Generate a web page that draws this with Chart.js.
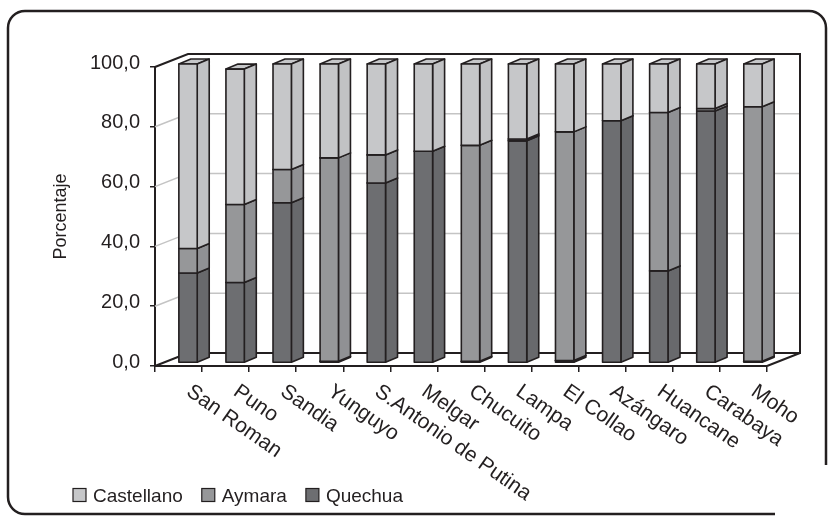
<!DOCTYPE html>
<html>
<head>
<meta charset="utf-8">
<script src="https://cdn.jsdelivr.net/npm/chart.js@4.4.1/dist/chart.umd.min.js"></script>
<style>
  html, body { margin: 0; padding: 0; background: #fff; }
</style>
</head>
<body>
<canvas id="lenguas" width="831" height="518"></canvas>
<script>
// Lengua materna por provincia (%), Puno
const provincias = ['San Roman', 'Puno', 'Sandia', 'Yunguyo', 'S.Antonio de Putina', 'Melgar',
    'Chucuito', 'Lampa', 'El Collao', 'Azángaro', 'Huancane', 'Carabaya', 'Moho'];
const quechua    = [30.1, 26.9, 53.6,  0.6, 60.2, 70.8,  0.6, 74.3,  0.8, 81.0, 30.8, 84.3,  0.6];
const aymara     = [ 8.2, 26.1, 11.1, 68.0,  9.4,  0.0, 72.2,  0.6, 76.5,  0.0, 53.0,  0.8, 85.1];
const castellano = [61.7, 45.3, 35.3, 31.4, 30.4, 29.2, 27.2, 25.1, 22.7, 19.0, 16.2, 14.9, 14.3];
const yTicks = [0, 20, 40, 60, 80, 100];

const INK = '#231f20';
const FONT = '"Liberation Sans", Arial, sans-serif';

// fake 3D: wall depth, bar offset from the front edge, bar thickness
const depth = { x: 33, y: -13 };
const shift = { x: 9.5, y: -3 };
const thick = { x: 12, y: -5 };

Chart.defaults.font.family = FONT;
Chart.defaults.color = INK;

function frame(ctx) {
    // rounded outer frame (bottom-right corner left open)
    ctx.save();
    ctx.strokeStyle = INK;
    ctx.lineWidth = 2.5;
    const l = 8, t = 11, r = 826, b = 514, rad = 17;
    ctx.beginPath();
    ctx.moveTo(r, 465);
    ctx.lineTo(r, t + rad);
    ctx.arcTo(r, t, r - rad, t, rad);
    ctx.lineTo(l + rad, t);
    ctx.arcTo(l, t, l, t + rad, rad);
    ctx.lineTo(l, b - rad);
    ctx.arcTo(l, b, l + rad, b, rad);
    ctx.lineTo(775, b);
    ctx.stroke();
    ctx.restore();
}

const box3d = {
    id: 'box3d',
    beforeDraw(chart) {
        frame(chart.ctx);
    },
    beforeDatasetsDraw(chart) {
        const ctx = chart.ctx;
        const xs = chart.scales.x, ys = chart.scales.y;
        const L = xs.left, R = xs.right;
        const y0 = ys.getPixelForValue(0), yTop = ys.getPixelForValue(100);

        ctx.save();
        // grid lines on the side and back walls
        ctx.strokeStyle = '#c4c4c4';
        ctx.lineWidth = 1.5;
        yTicks.forEach(v => {
            if (v === 0 || v === 100) return;
            const y = ys.getPixelForValue(v);
            ctx.beginPath();
            ctx.moveTo(L, y);
            ctx.lineTo(L + depth.x, y + depth.y);
            ctx.lineTo(R + depth.x, y + depth.y);
            ctx.stroke();
        });

        // wall and floor edges
        ctx.strokeStyle = INK;
        ctx.lineWidth = 2;
        ctx.beginPath();
        ctx.moveTo(L, yTop);
        ctx.lineTo(L + depth.x, yTop + depth.y);
        ctx.lineTo(R + depth.x, yTop + depth.y);
        ctx.lineTo(R + depth.x, y0 + depth.y);
        ctx.lineTo(L + depth.x, y0 + depth.y);
        ctx.lineTo(L, y0);
        ctx.moveTo(R + depth.x, y0 + depth.y);
        ctx.lineTo(R, y0);
        ctx.stroke();

        // stacked prisms, bottom segment first
        ctx.lineWidth = 1.6;
        ctx.lineJoin = 'round';
        provincias.forEach((p, i) => {
            chart.data.datasets.forEach((ds, d) => {
                const el = chart.getDatasetMeta(d).data[i];
                if (!el || ds.data[i] <= 0) return;
                const x1 = el.x - el.width / 2 + shift.x;
                const x2 = x1 + el.width;
                const top = el.y + shift.y;
                const bot = el.base + shift.y;
                ctx.fillStyle = ds.backgroundColor;
                ctx.strokeStyle = INK;
                // top face
                ctx.beginPath();
                ctx.moveTo(x1, top);
                ctx.lineTo(x1 + thick.x, top + thick.y);
                ctx.lineTo(x2 + thick.x, top + thick.y);
                ctx.lineTo(x2, top);
                ctx.closePath();
                ctx.fill(); ctx.stroke();
                // side face
                ctx.fillStyle = ds.sideColor;
                ctx.beginPath();
                ctx.moveTo(x2, top);
                ctx.lineTo(x2 + thick.x, top + thick.y);
                ctx.lineTo(x2 + thick.x, bot + thick.y);
                ctx.lineTo(x2, bot);
                ctx.closePath();
                ctx.fill(); ctx.stroke();
                // front face
                ctx.fillStyle = ds.backgroundColor;
                ctx.beginPath();
                ctx.rect(x1, top, x2 - x1, bot - top);
                ctx.fill(); ctx.stroke();
            });
        });
        ctx.restore();
        return false;
    },
    afterDraw(chart) {
        const ctx = chart.ctx;
        const xs = chart.scales.x;
        ctx.save();
        ctx.fillStyle = INK;

        // slanted category labels
        ctx.font = '21px ' + FONT;
        ctx.textAlign = 'left';
        ctx.textBaseline = 'top';
        provincias.forEach((p, i) => {
            const x = xs.getPixelForValue(i);
            ctx.save();
            ctx.translate(x + 16, 381);
            ctx.rotate(35 * Math.PI / 180);
            ctx.fillText(p, 0, 0);
            ctx.restore();
        });

        // legend, top series first
        ctx.font = '19px ' + FONT;
        ctx.textBaseline = 'alphabetic';
        let lx = 73;
        chart.data.datasets.slice().reverse().forEach(ds => {
            ctx.fillStyle = ds.backgroundColor;
            ctx.fillRect(lx, 488.5, 13, 13);
            ctx.strokeStyle = INK;
            ctx.lineWidth = 1.2;
            ctx.strokeRect(lx, 488.5, 13, 13);
            ctx.fillStyle = INK;
            ctx.fillText(ds.label, lx + 20, 502);
            lx += 20 + ctx.measureText(ds.label).width + 19;
        });
        ctx.restore();
    }
};

new Chart(document.getElementById('lenguas'), {
    type: 'bar',
    data: {
        labels: provincias,
        datasets: [
            { label: 'Quechua', data: quechua, backgroundColor: '#6d6e71', sideColor: '#68696c' },
            { label: 'Aymara', data: aymara, backgroundColor: '#969799', sideColor: '#909194' },
            { label: 'Castellano', data: castellano, backgroundColor: '#c6c7c9', sideColor: '#c1c2c4' }
        ]
    },
    options: {
        responsive: false,
        animation: false,
        devicePixelRatio: 1,
        layout: { padding: { left: 0, top: 67, right: 64, bottom: 0 } },
        datasets: { bar: { categoryPercentage: 1, barPercentage: 0.39 } },
        plugins: {
            legend: { display: false },
            tooltip: { enabled: false }
        },
        scales: {
            x: {
                stacked: true,
                grid: { display: true, drawOnChartArea: false, offset: true, tickLength: 6, color: INK, lineWidth: 1.5 },
                border: { display: true, color: INK, width: 2 },
                ticks: { display: false },
                afterFit(s) { s.height = 518 - 366; }
            },
            y: {
                stacked: true,
                min: 0,
                max: 100,
                afterBuildTicks(s) { s.ticks = yTicks.map(v => ({ value: v })); },
                grid: { display: true, drawOnChartArea: false, tickLength: 5, color: INK, lineWidth: 1.5 },
                border: { display: true, color: INK, width: 2 },
                ticks: {
                    padding: 10,
                    labelOffset: -4,
                    font: { size: 20 },
                    color: INK,
                    callback: v => v.toFixed(1).replace('.', ',')
                },
                title: {
                    display: true,
                    text: 'Porcentaje',
                    font: { size: 18 },
                    color: INK,
                    padding: { top: 50, bottom: 0 }
                },
                afterFit(s) { s.width = 155; }
            }
        }
    },
    plugins: [box3d]
});
</script>
</body>
</html>
